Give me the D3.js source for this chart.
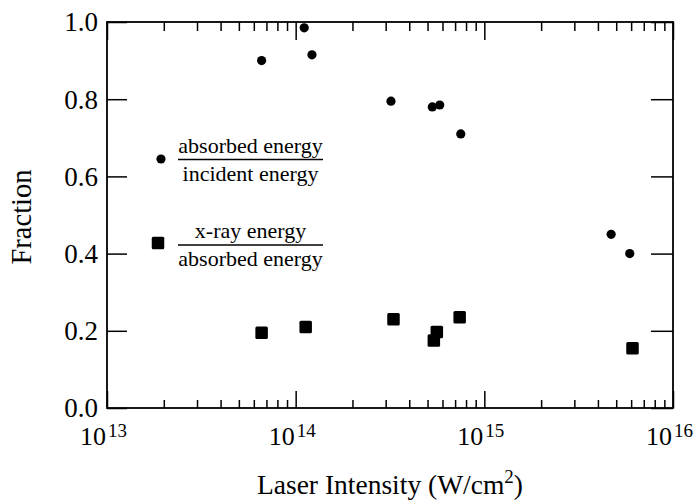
<!DOCTYPE html>
<html>
<head>
<meta charset="utf-8">
<script src="https://cdn.jsdelivr.net/npm/d3@7/dist/d3.min.js"></script>
<style>
  html, body { margin: 0; padding: 0; background: #fff; }
  svg { display: block; }
  text { font-family: "Liberation Serif", "Times New Roman", serif; fill: #000; }
</style>
</head>
<body>
<svg id="chart" width="697" height="502"></svg>
<script>
// ---- data ----
const absorbedX = [6.6e13, 1.11e14, 1.22e14, 3.2e14, 5.3e14, 5.8e14, 7.5e14, 4.7e15, 5.9e15];
const absorbedY = [0.90, 0.985, 0.915, 0.795, 0.78, 0.785, 0.71, 0.45, 0.40];
const xrayX = [6.6e13, 1.13e14, 3.3e14, 5.6e14, 5.4e14, 7.4e14, 6.1e15];
const xrayY = [0.195, 0.21, 0.23, 0.197, 0.175, 0.235, 0.155];
const xMajorExps = [13, 14, 15, 16];
const yTickValues = [0.0, 0.2, 0.4, 0.6, 0.8, 1.0];
const legendTop = ["absorbed energy", "incident energy"];
const legendBottom = ["x-ray energy", "absorbed energy"];
const xTitle = "Laser Intensity (W/cm";
const yTitle = "Fraction";

// ---- layout ----
const W = 697, H = 502;
const m = { left: 107, right: 24, top: 22, bottom: 94 };
const pw = W - m.left - m.right, ph = H - m.top - m.bottom;
const svg = d3.select("#chart");
const g = svg.append("g").attr("transform", `translate(${m.left},${m.top})`);

const x = d3.scaleLog().domain([1e13, 1e16]).range([0, pw]);
const y = d3.scaleLinear().domain([0, 1]).range([ph, 0]);

const majors = xMajorExps.map(e => Math.pow(10, e));
const minors = [];
for (let e = 13; e < 16; e++) for (let k = 2; k <= 9; k++) minors.push(k * Math.pow(10, e));

function styleAxis(sel) {
  sel.select(".domain").remove();
  sel.selectAll("line").attr("stroke", "#000").attr("stroke-width", 1.5);
  sel.selectAll("text").remove();
}
// bottom minor & major (inward)
g.append("g").attr("transform", `translate(0,${ph})`)
  .call(d3.axisBottom(x).tickValues(minors).tickSize(-8).tickFormat("")).call(styleAxis);
g.append("g").attr("transform", `translate(0,${ph})`)
  .call(d3.axisBottom(x).tickValues(majors).tickSize(-17).tickFormat("")).call(styleAxis);
// top
g.append("g")
  .call(d3.axisTop(x).tickValues(minors).tickSize(-9).tickFormat("")).call(styleAxis);
g.append("g")
  .call(d3.axisTop(x).tickValues(majors).tickSize(-18).tickFormat("")).call(styleAxis);
// left / right
g.append("g")
  .call(d3.axisLeft(y).tickValues(yTickValues).tickSize(-20).tickFormat("")).call(styleAxis);
g.append("g").attr("transform", `translate(${pw},0)`)
  .call(d3.axisRight(y).tickValues(yTickValues).tickSize(-22).tickFormat("")).call(styleAxis);

// frame
g.append("rect").attr("x", 0).attr("y", 0).attr("width", pw).attr("height", ph)
  .attr("fill", "none").attr("stroke", "#000").attr("stroke-width", 1.8);

// y tick labels
g.selectAll(".ylab").data(yTickValues).enter().append("text")
  .attr("x", -9).attr("y", d => y(d)).attr("dy", "0.35em")
  .attr("text-anchor", "end").style("font-size", "27px")
  .text(d => d3.format(".1f")(d));

// x tick labels 10^n
const xl = g.selectAll(".xlab").data(xMajorExps).enter().append("g");
xl.append("text").attr("x", d => x(Math.pow(10, d)) - 1).attr("y", ph + 37)
  .attr("text-anchor", "end").style("font-size", "26px").text("10");
xl.append("text").attr("x", d => x(Math.pow(10, d)) + 1).attr("y", ph + 29)
  .attr("text-anchor", "start").style("font-size", "19px").text(d => d);

// axis titles
const xt = svg.append("text").attr("x", m.left + pw / 2).attr("y", 494)
  .attr("text-anchor", "middle").style("font-size", "27.5px");
xt.append("tspan").text(xTitle);
xt.append("tspan").attr("dy", -11).style("font-size", "19px").text("2");
xt.append("tspan").attr("dy", 11).text(")");

svg.append("text").attr("transform", `translate(31,${m.top + ph / 2 + 2}) rotate(-90)`)
  .attr("text-anchor", "middle").style("font-size", "28.5px").text(yTitle);

// data marks
g.selectAll(".abs").data(absorbedX.map((v, i) => [v, absorbedY[i]])).enter()
  .append("circle").attr("cx", d => x(d[0])).attr("cy", d => y(d[1])).attr("r", 4.6).attr("fill", "#000");

const sq = 12.5;
g.selectAll(".xr").data(xrayX.map((v, i) => [v, xrayY[i]])).enter()
  .append("rect").attr("x", d => x(d[0]) - sq / 2).attr("y", d => y(d[1]) - sq / 2)
  .attr("width", sq).attr("height", sq).attr("rx", 1.5).attr("fill", "#000");

// legend
const lg = svg.append("g");
function legendEntry(cy, lines, marker) {
  const x0 = 178, x1 = 323, cx = (x0 + x1) / 2;
  lg.append("line").attr("x1", x0).attr("x2", x1).attr("y1", cy).attr("y2", cy)
    .attr("stroke", "#000").attr("stroke-width", 1.5);
  lg.append("text").attr("x", cx).attr("y", cy - 7).attr("text-anchor", "middle")
    .style("font-size", "22px").text(lines[0]);
  lg.append("text").attr("x", cx).attr("y", cy + 21).attr("text-anchor", "middle")
    .style("font-size", "22px").text(lines[1]);
  marker();
}
legendEntry(159.5, legendTop, () =>
  lg.append("circle").attr("cx", 161).attr("cy", 159).attr("r", 4.6).attr("fill", "#000"));
legendEntry(245, legendBottom, () =>
  lg.append("rect").attr("x", 158 - sq / 2).attr("y", 243 - sq / 2).attr("width", sq).attr("height", sq)
    .attr("rx", 1.5).attr("fill", "#000"));
</script>
</body>
</html>
